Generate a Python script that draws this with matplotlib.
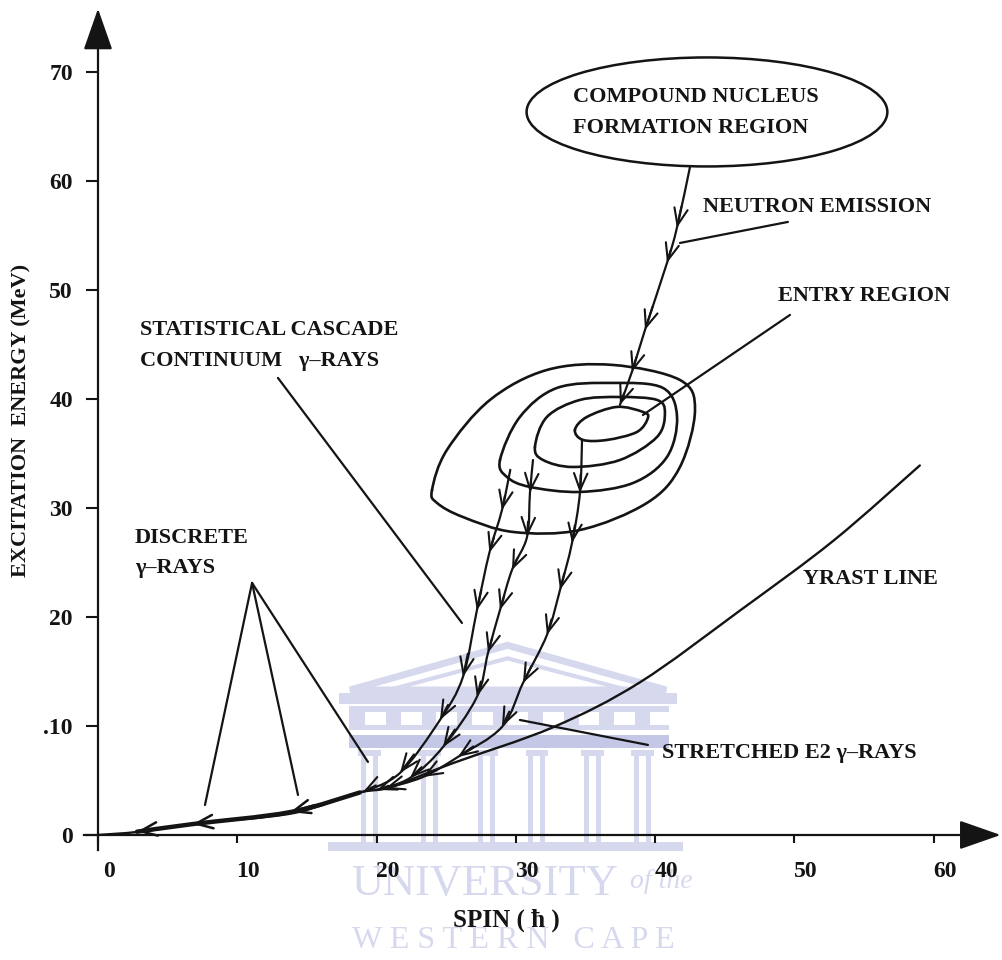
import numpy as np
import matplotlib
matplotlib.use("Agg")
import matplotlib.pyplot as plt
import matplotlib.transforms as mtransforms
from matplotlib.path import Path
from matplotlib.patches import PathPatch, Ellipse, Polygon, Rectangle

plt.rcParams['font.family'] = ['Liberation Serif', 'DejaVu Serif']

# ----------------- values -----------------
# spin in hbar, excitation energy in MeV
x_ticks = [0, 10, 20, 30, 40, 50, 60]
y_ticks = [0, 10, 20, 30, 40, 50, 60, 70]
y_ticklabels = ["0", ".10", "20", "30", "40", "50", "60", "70"]

yrast_spin = [0, 3, 7.5, 14, 18.6, 21, 25.5, 32.7, 38.9, 46.1, 52.8, 59]
yrast_e = [0, 0.3, 1.1, 2.0, 3.85, 4.4, 6.6, 9.9, 14.0, 20.6, 27.0, 33.9]

# entry region contours (outer -> inner)
cont1_spin = [23.98, 25.05, 28.14, 32.23, 36.97, 41.78, 42.86, 41.78, 39.41, 34.60, 29.79, 26.20, 24.34]
cont1_e = [31.65, 35.32, 39.91, 42.66, 43.12, 41.74, 38.99, 33.76, 30.46, 27.98, 27.80, 29.17, 30.46]
cont2_spin = [28.86, 30.29, 32.95, 36.97, 40.56, 41.57, 40.85, 38.41, 34.60, 31.01, 29.36]
cont2_e = [34.40, 38.35, 41.01, 41.47, 41.01, 38.35, 34.68, 32.29, 31.47, 31.93, 32.84]
cont3_spin = [31.37, 32.23, 34.60, 37.47, 40.13, 40.70, 40.13, 37.47, 34.10, 31.95]
cont3_e = [35.60, 38.35, 39.91, 40.18, 39.91, 38.72, 36.51, 34.40, 33.76, 34.40]
cont4_spin = [34.24, 35.10, 37.26, 39.12, 39.48, 38.69, 36.54, 34.82]
cont4_e = [37.16, 38.35, 39.27, 38.81, 38.26, 36.97, 36.24, 36.24]

# neutron emission path from the compound nucleus to the entry region
neutron_spin = [42.5, 41.56, 40.85, 39.27, 38.33, 37.47]
neutron_e = [61.28, 55.69, 52.48, 46.33, 42.48, 39.45]

# statistical + stretched E2 cascades
casc1_spin = [29.6, 29.0, 28.1, 27.2, 26.2, 24.55, 21.68, 19.02]
casc1_e = [33.5, 29.8, 25.9, 20.6, 14.5, 10.55, 5.69, 3.94]
casc2_spin = [31.23, 31.01, 30.80, 29.72, 28.86, 28.0, 27.2, 24.77, 22.4, 20.03]
casc2_e = [34.40, 31.38, 27.34, 24.31, 20.64, 16.7, 12.66, 8.07, 5.23, 4.13]
casc3_spin = [34.75, 34.6, 34.03, 33.17, 32.23, 30.51, 29.0, 25.84, 23.33, 20.6]
casc3_e = [36.24, 31.38, 26.79, 22.48, 18.35, 13.94, 9.91, 7.16, 5.32, 4.25]

# discrete gamma rays along the yrast line
disc_spin = [18.8, 13.8, 6.8, 2.8]
disc_e = [3.9, 2.1, 1.0, 0.3]

# compound nucleus region (centre, width, height)
cn_spin, cn_e, cn_w, cn_h = 43.72, 66.33, 25.9, 10.0

INK = "#141414"
WM = "#d6d8ee"
WM_DARK = "#c4c7e6"


def smooth_path(xs, ys, closed=False):
    # Catmull-Rom through the read points, as cubic beziers
    P = np.column_stack([xs, ys]).astype(float)
    n = len(P)
    verts = [P[0]]
    codes = [Path.MOVETO]
    segs = n if closed else n - 1
    for i in range(segs):
        p0 = P[(i - 1) % n] if (closed or i > 0) else P[0]
        p1 = P[i % n]
        p2 = P[(i + 1) % n]
        p3 = P[(i + 2) % n] if (closed or i + 2 < n) else P[-1]
        verts += [p1 + (p2 - p0) / 6.0, p2 - (p3 - p1) / 6.0, p2]
        codes += [Path.CURVE4] * 3
    return Path(verts, codes)


def draw_curve(ax, xs, ys, closed=False, lw=1.7, color=INK, z=3):
    ax.add_patch(PathPatch(smooth_path(xs, ys, closed), fill=False, lw=lw,
                           edgecolor=color, capstyle="round", zorder=z))


def arrow_heads(ax, xs, ys, start=1, lw=1.5):
    for i in range(start, len(xs)):
        tip = np.array([xs[i], ys[i]])
        back = tip - 0.35 * (tip - np.array([xs[i - 1], ys[i - 1]]))
        ax.annotate("", xy=tip, xytext=back,
                    arrowprops=dict(arrowstyle="->,head_length=0.55,head_width=0.22",
                                    mutation_scale=22, lw=lw, color=INK,
                                    shrinkA=0, shrinkB=0), zorder=4)


fig = plt.figure(figsize=(10.02, 9.6), dpi=100)
ax = fig.add_axes([0, 0, 1, 1])
ax.set_xlim(-7.035, 64.9)
ax.set_ylim(-11.47, 76.6)

# ---- faint university watermark ----
ax.add_patch(Polygon([(18.1, 13.3), (29.4, 17.4), (40.8, 13.3)], closed=True,
                     fill=False, lw=5, edgecolor=WM, joinstyle="miter", zorder=0))
ax.add_patch(Polygon([(20.0, 13.0), (29.4, 16.2), (38.9, 13.0)], closed=True,
                     fill=False, lw=3, edgecolor=WM, zorder=0))
ax.add_patch(Rectangle((17.3, 12.0), 24.3, 1.0, color=WM, lw=0, zorder=0))
ax.add_patch(Rectangle((18.0, 9.6), 23.0, 2.2, color=WM, lw=0, zorder=0))
for gx in np.arange(19.2, 40.5, 2.55):
    ax.add_patch(Rectangle((gx, 10.1), 1.5, 1.2, color="white", lw=0, zorder=0))
ax.add_patch(Rectangle((18.0, 8.0), 23.0, 1.2, color=WM_DARK, lw=0, zorder=0))
for cx in [19.5, 23.8, 27.9, 31.5, 35.5, 39.1]:
    ax.add_patch(Rectangle((cx - 0.8, 7.2), 1.6, 0.6, color=WM, lw=0, zorder=0))
    ax.add_patch(Rectangle((cx - 0.6, -0.6), 0.35, 7.8, color=WM, lw=0, zorder=0))
    ax.add_patch(Rectangle((cx + 0.25, -0.6), 0.35, 7.8, color=WM, lw=0, zorder=0))
ax.add_patch(Rectangle((16.5, -1.5), 25.5, 0.9, color=WM, lw=0, zorder=0))
ax.text(18.2, -4.5, "UNIVERSITY", fontsize=32, color=WM, va="center", ha="left", zorder=0)
ax.text(38.2, -4.3, "of the", fontsize=20, color=WM, style="italic", va="center", ha="left", zorder=0)
ax.text(18.2, -9.7, "W E S T E R N   C A P E", fontsize=23, color=WM, va="center", ha="left", zorder=0)

# ---- axes with arrows ----
for s in ["top", "right"]:
    ax.spines[s].set_visible(False)
ax.spines["left"].set_position(("data", 0))
ax.spines["bottom"].set_position(("data", 0))
ax.spines["left"].set_bounds(-1.4, 74)
ax.spines["bottom"].set_bounds(-1.0, 63)
for s in ["left", "bottom"]:
    ax.spines[s].set_linewidth(1.6)
    ax.spines[s].set_color(INK)
ax.set_xticks(x_ticks)
ax.set_yticks(y_ticks)
ax.set_yticklabels(y_ticklabels)
ax.tick_params(axis="y", direction="out", length=9, width=1.5, pad=9,
               labelsize=17, colors=INK)
ax.tick_params(axis="x", direction="out", length=6, width=1.5, pad=13,
               labelsize=17, colors=INK)
for lab in ax.get_xticklabels() + ax.get_yticklabels():
    lab.set_fontweight("bold")
# x tick numbers sit a little right of their ticks in the scan
shift = mtransforms.ScaledTranslation(0.11, 0, fig.dpi_scale_trans)
for lab in ax.get_xticklabels():
    lab.set_transform(lab.get_transform() + shift)

ax.annotate("", xy=(0, 75.8), xytext=(0, 73),
            arrowprops=dict(arrowstyle="-|>,head_length=1.0,head_width=0.35",
                            mutation_scale=26, lw=1.6, color=INK, shrinkA=0, shrinkB=0))
ax.annotate("", xy=(64.8, 0), xytext=(62.5, 0),
            arrowprops=dict(arrowstyle="-|>,head_length=1.0,head_width=0.35",
                            mutation_scale=26, lw=1.6, color=INK, shrinkA=0, shrinkB=0))

ax.text(-5.46, 38.0, "EXCITATION  ENERGY (MeV)", rotation=90, fontsize=16,
        fontweight="bold", ha="center", va="center", color=INK)
ax.text(29.3, -7.8, "SPIN ( \u0127 )", fontsize=18, fontweight="bold",
        ha="center", va="center", color=INK)

# ---- yrast line and discrete trunk ----
draw_curve(ax, yrast_spin, yrast_e, lw=1.7)
draw_curve(ax, disc_spin, disc_e, lw=3.2)
arrow_heads(ax, disc_spin, disc_e, lw=1.8)

# ---- entry region contours ----
for cs, ce in [(cont1_spin, cont1_e), (cont2_spin, cont2_e),
               (cont3_spin, cont3_e), (cont4_spin, cont4_e)]:
    draw_curve(ax, cs, ce, closed=True, lw=1.9)

# ---- compound nucleus ----
ax.add_patch(Ellipse((cn_spin, cn_e), cn_w, cn_h, fill=False, lw=1.8, edgecolor=INK))

# ---- cascades ----
for cs, ce in [(neutron_spin, neutron_e), (casc1_spin, casc1_e),
               (casc2_spin, casc2_e), (casc3_spin, casc3_e)]:
    draw_curve(ax, cs, ce, lw=1.6)
    arrow_heads(ax, cs, ce)

# ---- pointer lines ----
ptr = dict(color=INK, lw=1.6, solid_capstyle="round")
ax.plot([41.78, 49.53], [54.31, 56.24], **ptr)
ax.plot([49.68, 39.12], [47.71, 38.53], **ptr)
ax.plot([12.92, 26.13], [41.93, 19.45], **ptr)
for ex, ey in [(7.68, 2.75), (14.36, 3.67), (19.38, 6.70)]:
    ax.plot([11.06, ex], [23.12, ey], **ptr)
ax.plot([30.29, 39.48], [10.55, 8.26], **ptr)

# ---- labels ----
lab = dict(fontsize=16, fontweight="bold", ha="left", va="center", color=INK)
ax.text(34.10, 67.71, "COMPOUND NUCLEUS", **lab)
ax.text(34.10, 64.86, "FORMATION REGION", **lab)
ax.text(43.43, 57.61, "NEUTRON EMISSION", **lab)
ax.text(48.82, 49.45, "ENTRY REGION", **lab)
ax.text(3.02, 46.3, "STATISTICAL CASCADE", **lab)
ax.text(3.02, 43.5, "CONTINUUM   \u03b3\u2013RAYS", **lab)
ax.text(2.66, 27.25, "DISCRETE", **lab)
ax.text(2.66, 24.50, "\u03b3\u2013RAYS", **lab)
ax.text(50.61, 23.49, "YRAST LINE", **lab)
ax.text(40.49, 7.52, "STRETCHED E2 \u03b3\u2013RAYS", **lab)

fig.savefig("out.png", dpi=100)
